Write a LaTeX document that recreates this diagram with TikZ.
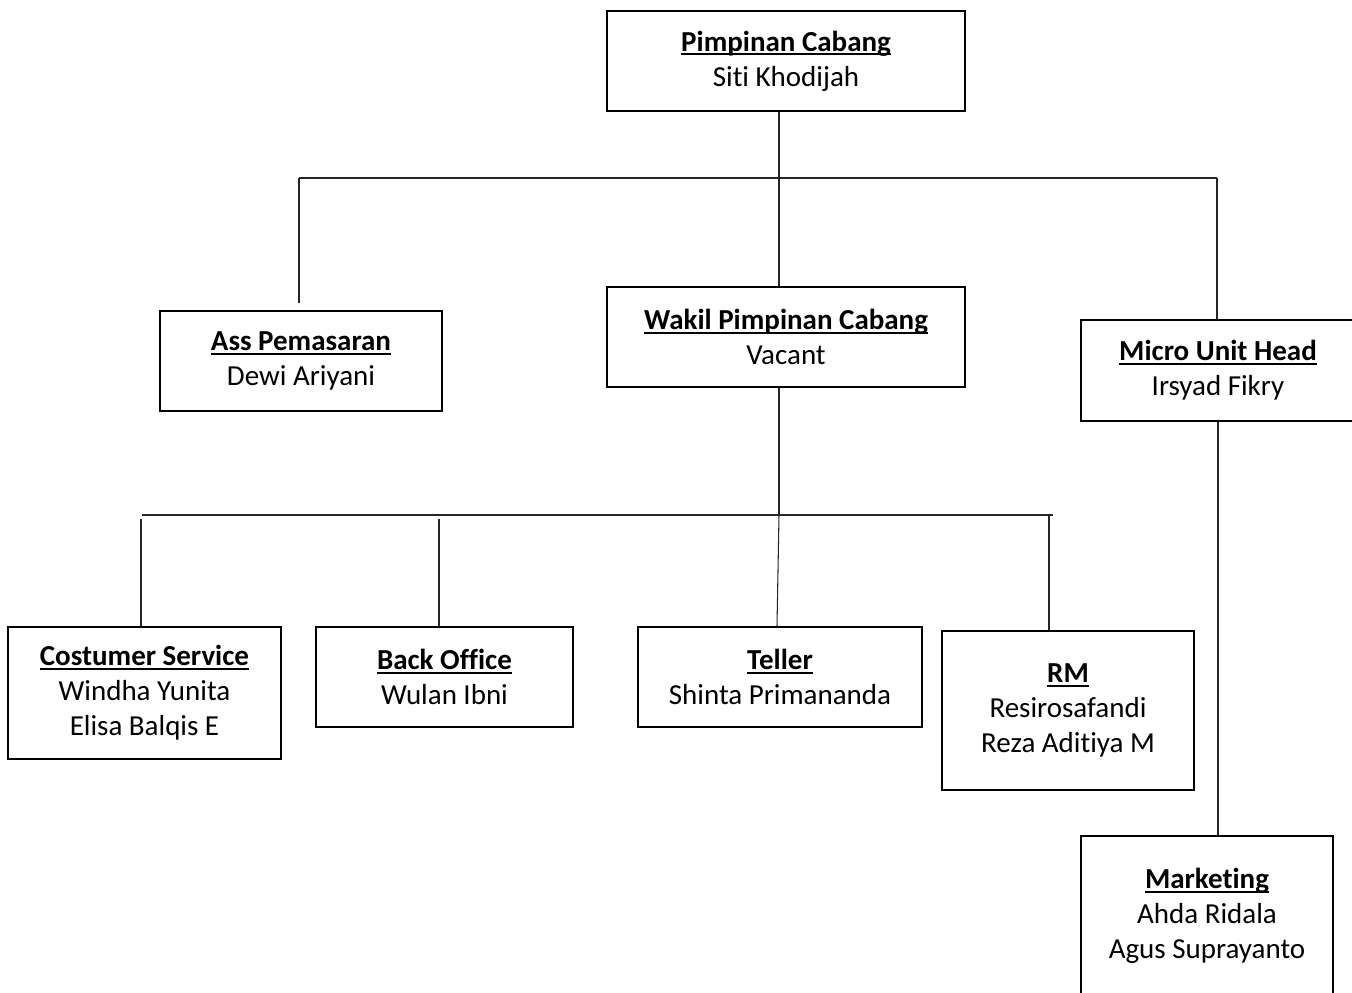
\documentclass[tikz,border=0pt]{standalone}
\usepackage{fontspec}
\setmainfont{Carlito}[RawFeature={-liga;-clig;-dlig}]
\usepackage{tikz}
\usetikzlibrary{calc}
\tikzset{
  jabatan/.style={draw=black, line width=1.2pt, fill=white, align=center,
    inner sep=0pt, font=\fontsize{16.5}{20}\selectfont},
  garis/.style={line width=0.6pt, black!85},
}
\newlength{\lebarjudul}
\newcommand{\judul}[1]{\settowidth{\lebarjudul}{\textbf{#1}}\textbf{#1}\hspace{-\lebarjudul}\rule[-2.4pt]{\lebarjudul}{1.1pt}}

\begin{document}
\begin{tikzpicture}[x=0.02cm,y=-0.02cm]
\useasboundingbox (0,0) rectangle (1352,992);
\clip (0,0) rectangle (1352,992);
\node[jabatan,minimum width=7.16cm,minimum height=2cm] (pimpinan) at (786,61) {\judul{Pimpinan Cabang}\\Siti Khodijah};
\node[jabatan,minimum width=5.64cm,minimum height=2cm] (ass) at (301,361) {\judul{Ass Pemasaran}\\Dewi Ariyani};
\node[jabatan,minimum width=7.16cm,minimum height=2cm] (wakil) at (786,337) {\judul{Wakil Pimpinan Cabang}\\Vacant};
\node[jabatan,minimum width=5.48cm,minimum height=2.02cm] (micro) at (1218,370.5) {\judul{Micro Unit Head}\\Irsyad Fikry};
\node[jabatan,minimum width=5.46cm,minimum height=2.64cm] (cs) at (144.5,693) {\judul{Costumer Service}\\Windha Yunita\\Elisa Balqis E};
\node[jabatan,minimum width=5.14cm,minimum height=2cm] (backoffice) at (444.5,677) {\judul{Back Office}\\Wulan Ibni};
\node[jabatan,minimum width=5.68cm,minimum height=2cm] (teller) at (780,677) {\judul{Teller}\\Shinta Primananda};
\node[jabatan,minimum width=5.04cm,minimum height=3.18cm] (rm) at (1068,710.5) {\judul{RM}\\Resirosafandi\\Reza Aditiya M};
\node[jabatan,minimum width=5.04cm,minimum height=3.2cm] (marketing) at (1207,916) {\judul{Marketing}\\Ahda Ridala\\Agus Suprayanto};
% garis atas
\coordinate (atasKiri) at (299,178);
\coordinate (atasKanan) at (1217,178);
\coordinate (batang) at (779,178);
\coordinate (ujungAss) at (299,303);
\draw[garis] (pimpinan.south -| batang) -- (wakil.north -| batang);
\draw[garis] (atasKiri) -- (atasKanan);
\draw[garis] (atasKiri) -- (ujungAss);
\draw[garis] (atasKanan) -- (micro.north -| atasKanan);
% garis bawah
\coordinate (bawahKiri) at (142,515);
\coordinate (bawahKanan) at (1053,515);
\coordinate (bawahTengah) at (779,515);
\draw[garis] (wakil.south -| batang) -- (bawahTengah);
\draw[garis] (bawahKiri) -- (bawahKanan);
\draw[garis] (141,519) -- (cs.north -| 141,0);
\draw[garis] (439,519) -- (backoffice.north -| 439,0);
\draw[garis] (bawahTengah) -- (teller.north -| 777,0);
\draw[garis] (1049,515) -- (rm.north -| 1049,0);
\draw[garis] (micro.south -| 1218,0) -- (marketing.north -| 1218,0);
\end{tikzpicture}
\end{document}
